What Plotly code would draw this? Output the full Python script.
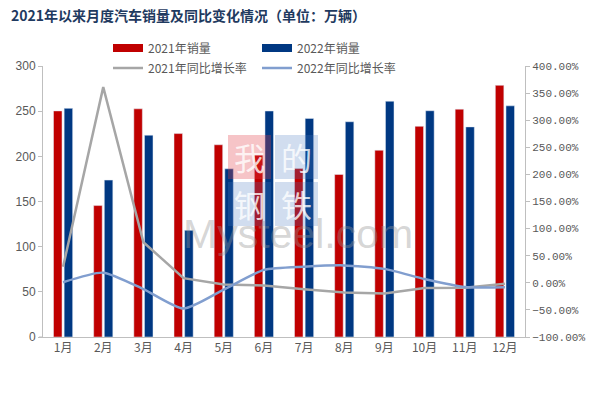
import plotly.graph_objects as go

months = ["1月", "2月", "3月", "4月", "5月", "6月", "7月", "8月", "9月", "10月", "11月", "12月"]
sales_2021 = [250.3, 145.5, 252.6, 225.2, 212.8, 201.5, 186.4, 179.9, 206.7, 233.2, 252.2, 278.6]
sales_2022 = [253.1, 173.7, 223.4, 118.1, 186.2, 250.2, 242.0, 238.3, 261.0, 250.5, 232.6, 255.9]
yoy_2021 = [29.5, 361.0, 74.9, 8.6, -3.1, -5.0, -11.9, -18.1, -19.6, -9.4, -9.1, -1.6]
yoy_2022 = [1.0, 18.7, -11.7, -47.6, -12.6, 23.8, 29.7, 32.1, 25.7, 6.9, -7.9, -8.4]

names = ["2021年销量", "2022年销量", "2021年同比增长率", "2022年同比增长率"]
RED = "#C00000"
BLUE = "#003882"
GRAY = "#A6A6A6"
LBLUE = "#819ECF"
TXT = "#595959"
CJK = "Noto Sans CJK SC"

fig = go.Figure()
fig.add_trace(go.Bar(x=months, y=sales_2021, name=names[0], marker_color=RED,
                     legendgroup="a", showlegend=False, yaxis="y"))
fig.add_trace(go.Bar(x=months, y=sales_2022, name=names[1], marker_color=BLUE,
                     legendgroup="b", showlegend=False, yaxis="y"))
fig.add_trace(go.Scatter(x=months, y=yoy_2021, name=names[2], mode="lines",
                         line=dict(color=GRAY, width=2.5), yaxis="y2",
                         legend="legend2"))
fig.add_trace(go.Scatter(x=months, y=yoy_2022, name=names[3], mode="lines",
                         line=dict(color=LBLUE, width=2.5, shape="spline", smoothing=0.6),
                         yaxis="y2", legend="legend2"))
# legend entries for the bars, drawn as wide rectangles like the reference
fig.add_trace(go.Scatter(x=[None], y=[None], name=names[0], mode="lines",
                         line=dict(color=RED, width=8), legendgroup="a", legend="legend"))
fig.add_trace(go.Scatter(x=[None], y=[None], name=names[1], mode="lines",
                         line=dict(color=BLUE, width=8), legendgroup="b", legend="legend"))

# the page body has an 8px default margin, so the figure is 591x391
W, H = 591, 391
L, R, T, B = 35, 74, 58, 62
pw, ph = W - L - R, H - T - B


def px(x):
    return (x - L) / pw


def py(y):
    return (H - B - y) / ph


# watermark (Mysteel logo)
shapes = []
annotations = []
boxes = [("我", 220, 127, "rgba(225,60,70,0.30)"),
         ("的", 267, 127, "rgba(70,120,190,0.25)"),
         ("钢", 220, 174, "rgba(70,120,190,0.25)"),
         ("铁", 267, 174, "rgba(70,120,190,0.25)")]
for ch, bx, by, col in boxes:
    shapes.append(dict(type="rect", xref="paper", yref="paper", layer="above",
                       x0=px(bx), x1=px(bx + 43), y0=py(by + 44), y1=py(by),
                       fillcolor=col, line=dict(width=0)))
    annotations.append(dict(text=ch, xref="paper", yref="paper", x=px(bx + 21.5), y=py(by + 21),
                            showarrow=False, xanchor="center", yanchor="middle",
                            font=dict(family=CJK, size=31, color="rgba(255,255,255,0.8)")))
annotations.append(dict(text="Mysteel.com", xref="paper", yref="paper", x=px(290), y=py(226),
                        showarrow=False, xanchor="center", yanchor="middle",
                        font=dict(family="Liberation Sans", size=41, color="rgba(150,150,150,0.40)")))

# small overhang of the category axis line to the left of the value axis
shapes.append(dict(type="line", xref="paper", yref="paper", x0=px(31), x1=px(35), y0=0, y1=0,
                   line=dict(color="#BFBFBF", width=1)))

fig.update_layout(
    width=W, height=H,
    margin=dict(l=L, r=R, t=T, b=B, autoexpand=False),
    paper_bgcolor="white", plot_bgcolor="white",
    barmode="group", bargap=0.47, bargroupgap=0.2,
    title=dict(text="<b>2021年以来月度汽车销量及同比变化情况（单位：万辆）</b>",
               x=3 / W, xanchor="left", y=1 - 3 / H, yanchor="top", pad=dict(t=0, l=0),
               font=dict(family=CJK, size=14, color="#1F3A60")),
    font=dict(family=CJK, size=12, color=TXT),
    xaxis=dict(showline=True, linecolor="#BFBFBF", linewidth=1, ticks="",
               tickfont=dict(family=CJK, size=12, color=TXT), showgrid=False),
    yaxis=dict(range=[0, 300], dtick=50, showline=True, linecolor="#BFBFBF", linewidth=1,
               ticks="outside", ticklen=4, tickcolor="#BFBFBF", showgrid=False, zeroline=False,
               tickfont=dict(family="Liberation Sans", size=12, color=TXT)),
    yaxis2=dict(range=[-100, 400], dtick=50, overlaying="y", side="right",
                showline=True, linecolor="#BFBFBF", linewidth=1,
                ticks="outside", ticklen=4, tickcolor="#BFBFBF", showgrid=False, zeroline=False,
                tickformat=".2f", ticksuffix="%",
                tickfont=dict(family="Liberation Mono", size=11, color=TXT)),
    legend=dict(orientation="h", x=px(100), y=py(40), xanchor="left", yanchor="middle",
                entrywidth=104, entrywidthmode="pixels", itemwidth=30,
                font=dict(family=CJK, size=12, color=TXT), bgcolor="rgba(0,0,0,0)"),
    legend2=dict(orientation="h", x=px(100), y=py(60), xanchor="left", yanchor="middle",
                 entrywidth=104, entrywidthmode="pixels", itemwidth=30,
                 font=dict(family=CJK, size=12, color=TXT), bgcolor="rgba(0,0,0,0)"),
    shapes=shapes,
    annotations=annotations,
)

fig.write_html("out.html")
